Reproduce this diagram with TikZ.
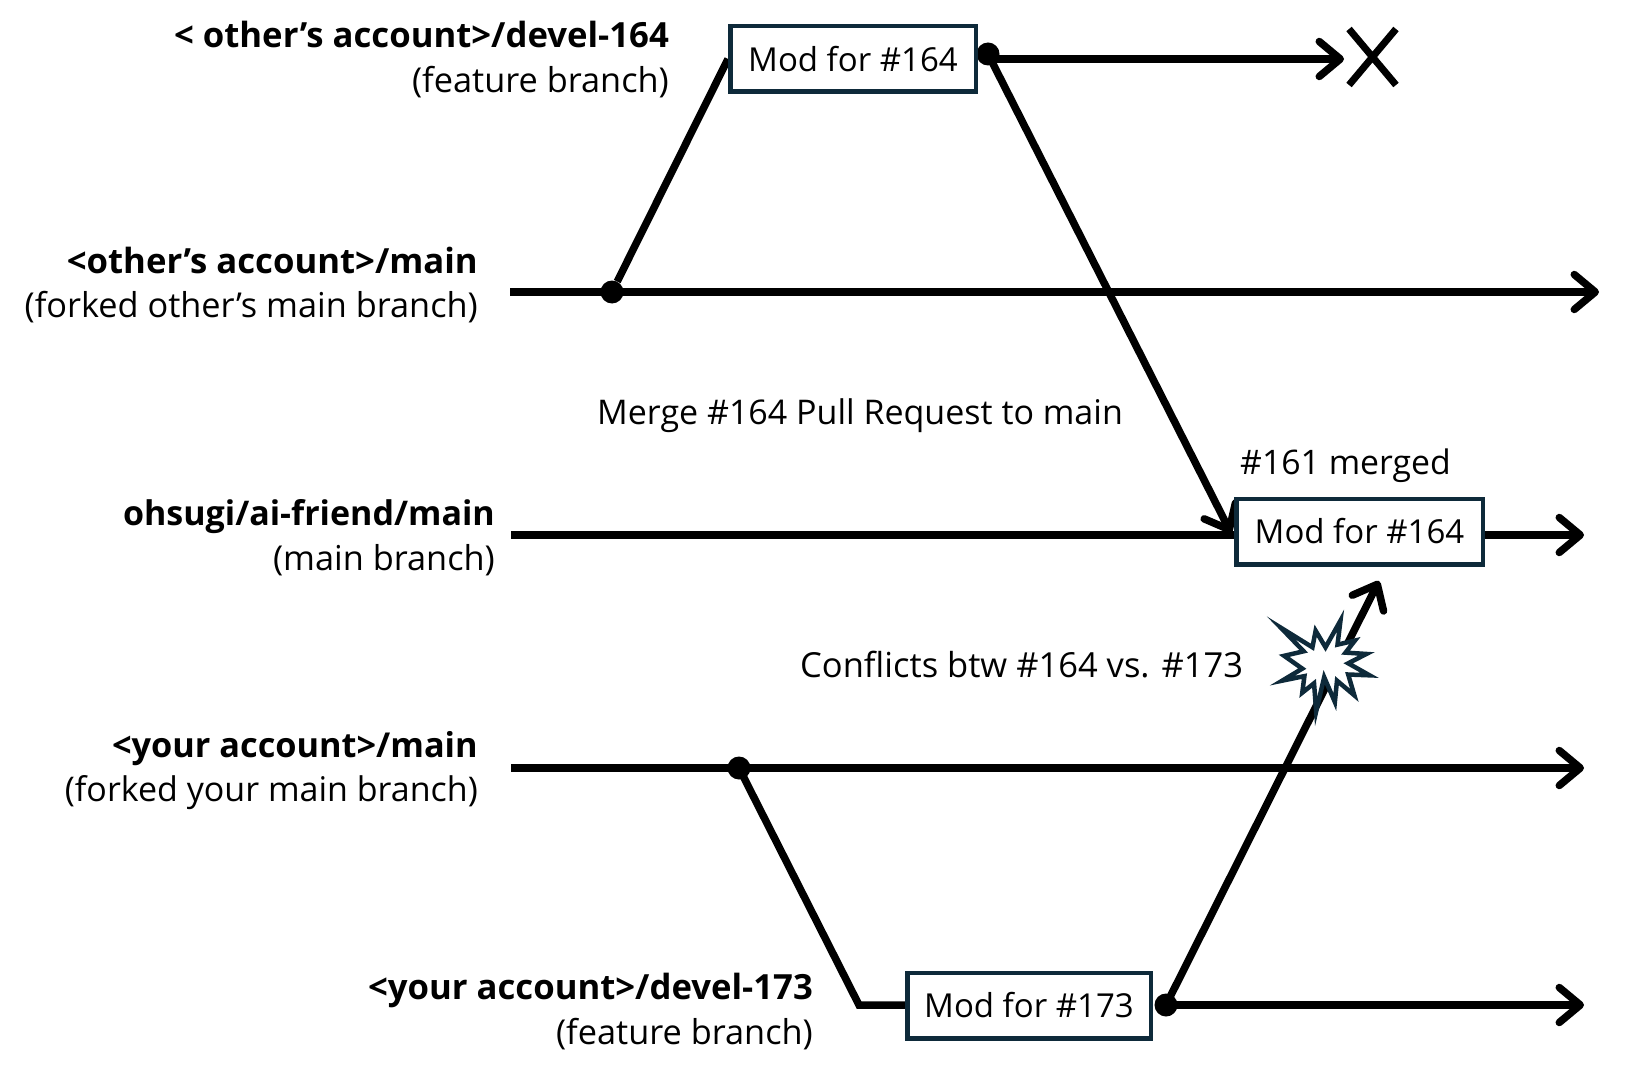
\documentclass[tikz,border=0pt]{standalone}
\usepackage{fontspec}
\setmainfont{Open Sans}
\usetikzlibrary{arrows.meta,backgrounds}
\definecolor{boxline}{HTML}{0E2A3A}
\tikzset{
  x=1pt,y=-1pt,
  branch/.style={line width=7.5pt,black},
  arr/.style={branch,-{Straight Barb[length=21pt,width=35pt,round]}},
  modbox/.style={draw=boxline,line width=4.5pt,fill=white,minimum height=65.5pt,inner sep=0pt,font=\fontsize{33}{36}\selectfont},
  dot/.style={circle,fill=black,inner sep=0pt,minimum size=23pt},
  lab/.style={anchor=base east,inner sep=0pt,font=\fontsize{34.3}{36}\selectfont},
  labb/.style={lab,font=\fontsize{34.7}{36}\selectfont\bfseries},
  note/.style={anchor=base west,inner sep=0pt},
}
\begin{document}
\begin{tikzpicture}
\useasboundingbox (0,0) rectangle (1636,1078);
% free ends and junctions
\coordinate (s1) at (510,292);
\coordinate (e1) at (1599,292);
\coordinate (s2) at (511,535);
\coordinate (e2) at (1584,535);
\coordinate (s3) at (511,768);
\coordinate (e3) at (1584,768);
\coordinate (e4) at (1584,1005);
\coordinate (kink) at (859,1005);
\coordinate (e0) at (1344,59);
\coordinate (tipa) at (1231,533);
\coordinate (tipb) at (1379,581);
\coordinate (xa) at (1349,29);
\coordinate (xb) at (1396,85);
\coordinate (xc) at (1396,29);
\coordinate (xd) at (1349,85);
\node[dot] (d1) at (612,292) {};
\node[dot] (d2) at (988,54) {};
\node[dot] (d3) at (739,768) {};
\node[dot] (d4) at (1166,1005) {};
\node[modbox,minimum width=245.5pt] (b1) at (853,59) {Mod for \#164};
\node[modbox,minimum width=246.5pt] (b3) at (1359.5,531.5) {\raisebox{-1pt}{Mod for \#164}};
\node[modbox,minimum width=243.5pt] (b2) at (1029,1005.5) {Mod for \#173};
% connectors
\begin{pgfonlayer}{background}
\draw[branch] (d1) -- (b1.west);
\draw[arr] (s1) -- (e1);
\draw[arr] (d2.center) -- (tipa);
\draw[arr] (d2.center |- e0) -- (e0);
\draw[branch] (s2) -- (b3.west |- s2);
\draw[arr] (b3.east |- e2) -- (e2);
\draw[arr] (s3) -- (e3);
\draw[branch,line join=miter] (d3.center) -- (kink) -- (b2.west |- kink);
\draw[arr] (d4.center) -- (e4);
\draw[arr] (d4.center) -- (tipb);
\end{pgfonlayer}
\draw[line width=7pt] (xa) -- (xb) (xc) -- (xd);
% burst
\begin{scope}[shift={(1184.8,476.4)},x=0.267pt,y=-0.267pt]
\draw[draw=boxline,fill=white,line width=4.5pt,miter limit=10]
 (360,567)--(478,640)--(490,578)--(527,640)--(583,540)--(572,630)--(637,615)--(602,660)--(680,665)--(612,700)--(692,745)--(612,742)--(635,820)--(570,765)--(562,845)--(522,752)--(492,880)--(484,775)--(440,810)--(448,748)--(365,765)--(440,720)--(372,672)--(445,655)--cycle;
\end{scope}
% labels
\node[labb] (l1) at (669,48) {< other’s account>/devel-164};
\node[lab] (l1b) at (669,92.5) {(feature branch)};
\node[labb] (l2) at (478,273) {<other’s account>/main};
\node[lab] (l2b) at (478,317) {(forked other’s main branch)};
\node[labb,font=\fontsize{34}{36}\selectfont\bfseries] (l3) at (495,525) {ohsugi/ai-friend/main};
\node[lab] (l3b) at (495,570) {(main branch)};
\node[labb,font=\fontsize{34.3}{36}\selectfont\bfseries] (l4) at (478,757) {<your account>/main};
\node[lab,font=\fontsize{34}{36}\selectfont] (l4b) at (478,801) {(forked your main branch)};
\node[labb] (l5) at (813,999) {<your account>/devel-173};
\node[lab] (l5b) at (813,1044) {(feature branch)};
\node[note,font=\fontsize{34}{36}\selectfont] (n1) at (597,424) {Merge \#164 Pull Request to main};
\node[note,font=\fontsize{33.8}{36}\selectfont] (n2) at (1240,474) {\#161 merged};
\node[note,font=\fontsize{34.5}{36}\selectfont] (n3) at (800,677.5) {Conflicts btw \#164 vs. \#173};
\end{tikzpicture}
\end{document}
